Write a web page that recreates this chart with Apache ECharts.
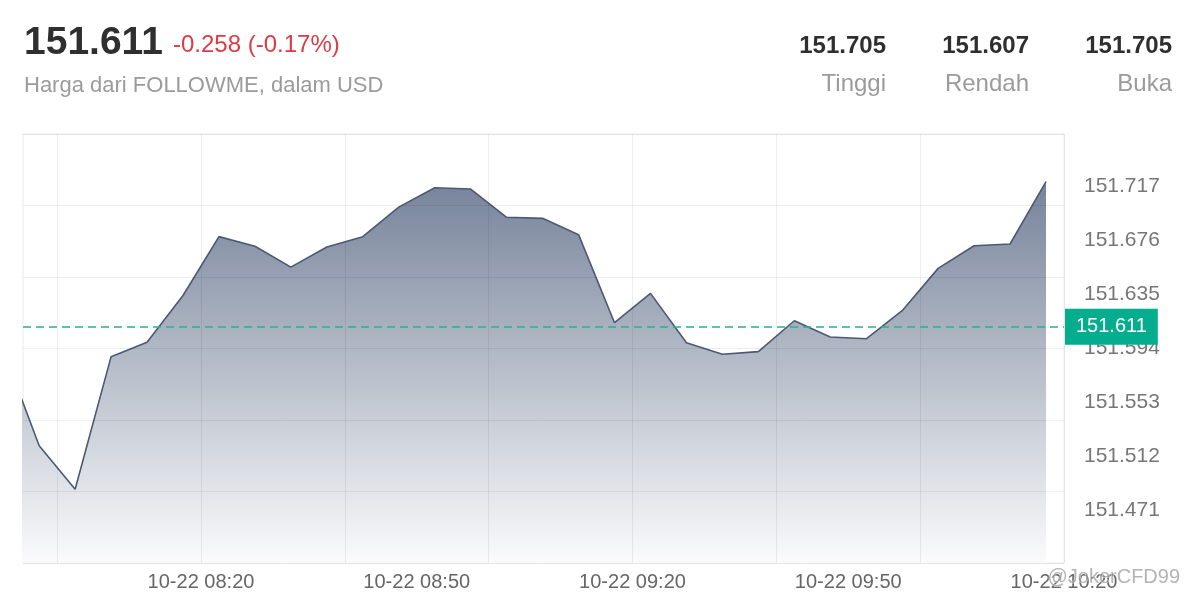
<!DOCTYPE html>
<html>
<head>
<meta charset="utf-8">
<script src="https://cdn.jsdelivr.net/npm/echarts@6/dist/echarts.min.js"></script>
<style>
html,body{margin:0;padding:0;background:#fff;}
#chart{width:1196px;height:616px;}
</style>
</head>
<body>
<div id="chart"></div>
<script>
// ---- data ----
var times = ['07:52:30','07:57:30','08:02:30','08:07:30','08:12:30','08:17:30','08:22:30','08:27:30','08:32:30','08:37:30',
             '08:42:30','08:47:30','08:52:30','08:57:30','09:02:30','09:07:30','09:12:30','09:17:30','09:22:30','09:27:30',
             '09:32:30','09:37:30','09:42:30','09:47:30','09:52:30','09:57:30','10:02:30','10:07:30','10:12:30','10:17:30'];
var prices = [151.5924,151.5196,151.4865,151.5873,151.5982,151.6338,151.6785,151.6712,151.6553,151.6706,
              151.6785,151.7009,151.7157,151.7147,151.6932,151.6924,151.6800,151.6131,151.6354,151.5979,
              151.5891,151.5911,151.6146,151.6022,151.6009,151.6222,151.6544,151.6716,151.6729,151.7203];
var datePrefix = '10-22';
var xLabelTimes = ['08:20','08:50','09:20','09:50','10:20'];
var xGridTimes = ['08:00','08:20','08:40','09:00','09:20','09:40','10:00','10:20'];
var yTickLabels = ['151.471','151.512','151.553','151.594','151.635','151.676','151.717'];
var currentPrice = '151.611';
var change = '-0.258 (-0.17%)';
var subtitle = 'Harga dari FOLLOWME, dalam USD';
var statValues = ['151.705','151.607','151.705'];
var statNames = ['Tinggi','Rendah','Buka'];
var watermark = '@JokerCFD99';

// ---- helpers ----
function toMin(s){var p=s.split(':');return (+p[0])*60+(+p[1])+(p[2]?(+p[2])/60:0);}
function pad(n){return (n<10?'0':'')+n;}
var seriesData = times.map(function(t,i){return [toMin(t), prices[i]];});
var xMin = toMin('07:55:15'), xMax = toMin('10:20');
var yMin = 151.4305, yMax = 151.7565;
var yGrid = [];
for (var k=0;k<=6;k++) yGrid.push(yMin + (yMax-yMin)*k/6);

var FONT = '"Liberation Sans", Arial, Helvetica, sans-serif';
var chart = echarts.init(document.getElementById('chart'));

var graphics = [
  {type:'text', left:24, top:24, style:{text:currentPrice, font:'bold 39px '+FONT, fill:'#2f2f2f'}},
  {type:'text', left:173, top:33, style:{text:change, font:'24px '+FONT, fill:'#dc3b45'}},
  {type:'text', left:24, top:75, style:{text:subtitle, font:'22px '+FONT, fill:'#9b9b9b'}}
];
var rights = [886, 1029, 1172];
for (var i=0;i<3;i++){
  graphics.push({type:'text', right:1196-rights[i], top:34, style:{text:statValues[i], font:'bold 24px '+FONT, fill:'#2f2f2f'}});
  graphics.push({type:'text', right:1196-rights[i], top:72, style:{text:statNames[i], font:'24px '+FONT, fill:'#9b9b9b'}});
}
graphics.push({type:'text', left:1047, top:567, z:100, style:{text:watermark, font:'20px '+FONT, fill:'rgba(130,130,130,0.6)', stroke:'rgba(255,255,255,0.6)', lineWidth:1}});

chart.setOption({
  animation:false,
  backgroundColor:'#ffffff',
  grid:{left:23, right:132, top:134, bottom:53, show:true, borderColor:'#ececec', borderWidth:1},
  graphic: graphics,
  xAxis:{
    type:'value', min:xMin, max:xMax, z:5,
    axisLine:{show:false},
    axisTick:{show:false, customValues: xGridTimes.map(toMin)},
    splitLine:{show:true, lineStyle:{color:'rgba(0,0,0,0.065)', width:1}},
    axisLabel:{
      customValues: xLabelTimes.map(toMin),
      margin:9, fontSize:20, color:'#666', fontFamily:FONT,
      formatter:function(v){var h=Math.floor(v/60), m=Math.round(v-h*60);return datePrefix+' '+pad(h)+':'+pad(m);}
    }
  },
  yAxis:{
    type:'value', min:yMin, max:yMax, position:'right', z:5,
    axisLine:{show:false},
    axisTick:{show:false, customValues: yGrid},
    splitLine:{show:true, lineStyle:{color:'rgba(0,0,0,0.065)', width:1}},
    axisLabel:{
      customValues: yTickLabels.map(Number),
      margin:20, fontSize:21, color:'#777', fontFamily:FONT,
      formatter:function(v){return v.toFixed(3);}
    }
  },
  series:[{
    type:'line',
    z:1,
    data:seriesData,
    showSymbol:false,
    clip:true,
    lineStyle:{color:'#4b5976', width:1.6},
    areaStyle:{
      opacity:1,
      color:new echarts.graphic.LinearGradient(0,0,0,1,[{offset:0,color:'#76839a'},{offset:1,color:'#fbfbfc'}])
    },
    markLine:{
      silent:true,
      z:10,
      symbol:['none','none'],
      lineStyle:{color:'#2bb08a', type:[8,5], width:1.5},
      label:{
        position:'end', distance:1,
        formatter:currentPrice,
        backgroundColor:'#03ad8d', color:'#fff',
        fontSize:20, fontFamily:FONT, lineHeight:20,
        padding:[8,11,8,11], borderRadius:0
      },
      data:[{yAxis:Number(currentPrice)}]
    }
  }]
});
</script>
</body>
</html>
